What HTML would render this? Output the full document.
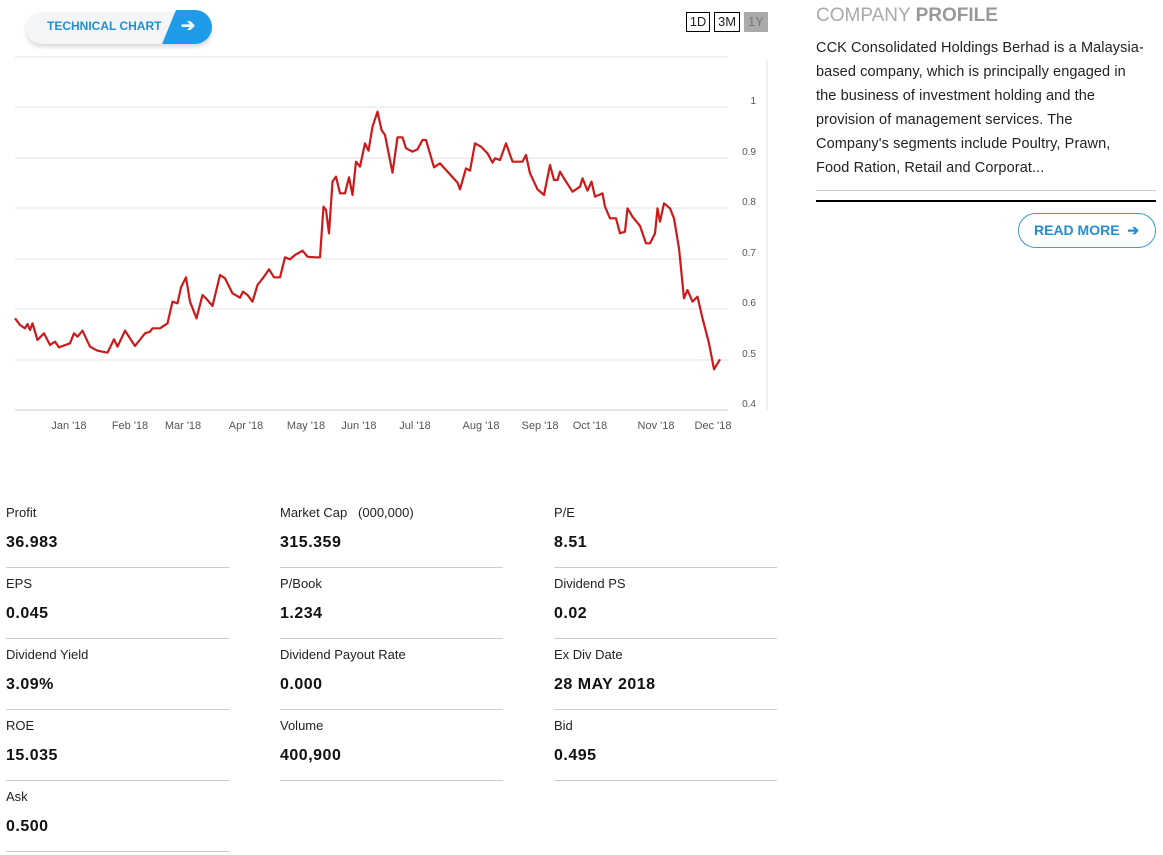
<!DOCTYPE html>
<html><head><meta charset="utf-8"><style>
body{margin:0;width:1163px;height:855px;background:#fff;font-family:"Liberation Sans",sans-serif;position:relative;overflow:hidden;color:#222}
.a{position:absolute}
.lab{font-size:13px;color:#222}
.val{font-size:16px;font-weight:bold;color:#111;letter-spacing:0.5px}
.ln{height:1px;background:#ccc;width:223px}
</style></head><body>
<div class="a" style="left:26px;top:12px;width:186px;height:32px;border-radius:16px;background:#f4f5f7;box-shadow:0 3px 4px rgba(0,0,0,0.15)"></div>
<div class="a" style="left:47px;top:19px;font-size:12px;font-weight:bold;color:#1e8fd6">TECHNICAL CHART</div>
<div class="a" style="left:162px;top:10px;width:50px;height:34px;background:#1e9be9;border-radius:0 17px 17px 0;clip-path:polygon(14px 0,100% 0,100% 100%,0 100%)"></div>
<div class="a" style="left:181px;top:16px;color:#fff;font-size:17px;font-weight:bold">➔</div>
<div class="a" style="left:686px;top:12px;width:22px;height:18px;border:1px solid #000;font-size:13px;text-align:center;line-height:18px">1D</div>
<div class="a" style="left:714px;top:12px;width:24px;height:18px;border:1px solid #000;font-size:13px;text-align:center;line-height:18px">3M</div>
<div class="a" style="left:744px;top:12px;width:24px;height:20px;background:#aaa;color:#777;font-size:13px;text-align:center;line-height:20px">1Y</div>
<svg class="a" style="left:0;top:0" width="780" height="440">
<g stroke="#e0e0e0" stroke-width="1">
<line x1="15" y1="57" x2="728" y2="57"/><line x1="15" y1="107" x2="728" y2="107"/><line x1="15" y1="158" x2="728" y2="158"/><line x1="15" y1="208" x2="728" y2="208"/><line x1="15" y1="259" x2="728" y2="259"/><line x1="15" y1="309" x2="728" y2="309"/><line x1="15" y1="360" x2="728" y2="360"/>
<line x1="15" y1="410" x2="728" y2="410" stroke="#ccc"/>
<line x1="767" y1="60" x2="767" y2="410"/>
</g>
<g font-size="10" fill="#555" text-anchor="end">
<text x="756" y="104">1</text><text x="756" y="155">0.9</text><text x="756" y="205">0.8</text><text x="756" y="256">0.7</text><text x="756" y="306">0.6</text><text x="756" y="357">0.5</text><text x="756" y="407">0.4</text>
</g>
<g font-size="11" fill="#555" text-anchor="middle">
<text x="69" y="429">Jan '18</text><text x="130" y="429">Feb '18</text><text x="183" y="429">Mar '18</text><text x="246" y="429">Apr '18</text><text x="306" y="429">May '18</text><text x="359" y="429">Jun '18</text><text x="415" y="429">Jul '18</text><text x="481" y="429">Aug '18</text><text x="540" y="429">Sep '18</text><text x="590" y="429">Oct '18</text><text x="656" y="429">Nov '18</text><text x="713" y="429">Dec '18</text>
</g>
<g transform="scale(0.5,0.33333)"><polyline fill="none" stroke="#cc1a1a" stroke-width="4.4" stroke-linejoin="round" vector-effect="non-scaling-stroke" style="stroke-width:2.2" points="30,955 40,975 50,985 55,972 60,990 65,970 75,1020 88,1000 100,1035 110,1025 118,1042 140,1030 148,1000 155,1010 165,992 180,1040 195,1052 215,1058 228,1018 235,1040 250,992 270,1038 290,1000 300,995 305,985 320,985 335,970 345,905 355,910 362,862 372,832 380,905 393,955 405,885 412,895 425,918 440,825 450,835 465,880 480,893 486,875 495,885 505,905 515,855 528,830 538,808 548,832 560,832 570,772 580,778 590,765 605,752 615,770 630,772 640,772 647,620 652,630 658,700 665,545 672,530 680,580 690,580 698,532 705,585 712,485 720,500 730,430 737,452 745,380 755,335 763,390 770,405 785,518 795,412 805,412 812,445 825,455 835,448 845,420 852,420 868,502 880,490 895,515 915,548 920,568 932,505 940,512 950,430 962,440 975,460 985,488 990,475 1000,480 1012,430 1025,485 1045,485 1052,465 1060,520 1075,568 1088,585 1100,495 1108,540 1115,540 1120,515 1130,540 1145,575 1160,560 1165,535 1175,572 1183,545 1190,590 1205,580 1210,620 1220,655 1232,655 1240,700 1250,695 1255,625 1265,650 1280,678 1292,730 1300,730 1310,700 1315,625 1320,665 1328,610 1340,625 1348,655 1358,745 1368,895 1375,870 1385,905 1395,890 1405,955 1418,1030 1428,1108 1440,1078"/></g>
</svg>
<div class="a" style="left:816px;top:5px;font-size:19px;color:#aaa">COMPANY <b style="color:#999">PROFILE</b></div>
<div class="a" style="left:816px;top:36px;font-size:14.5px;line-height:24px;color:#222;white-space:nowrap;letter-spacing:0.1px">CCK Consolidated Holdings Berhad is a Malaysia-<br>based company, which is principally engaged in<br>the business of investment holding and the<br>provision of management services. The<br>Company's segments include Poultry, Prawn,<br>Food Ration, Retail and Corporat...</div>
<div class="a" style="left:816px;top:190px;width:340px;height:1px;background:#ccc"></div>
<div class="a" style="left:816px;top:200px;width:340px;height:2px;background:#000"></div>
<div class="a" style="left:1018px;top:213px;width:138px;height:35px;border:1px solid #3a9ad0;border-radius:18px;box-sizing:border-box;font-size:14px;font-weight:bold;color:#1e8fd6;line-height:33px;padding-left:15px">READ MORE &nbsp;➔</div>

<div class="a lab" style="left:6px;top:505px">Profit</div><div class="a val" style="left:6px;top:534px">36.983</div><div class="a ln" style="left:6px;top:567px"></div>
<div class="a lab" style="left:280px;top:505px">Market Cap &nbsp;&nbsp;(000,000)</div><div class="a val" style="left:280px;top:534px">315.359</div><div class="a ln" style="left:280px;top:567px"></div>
<div class="a lab" style="left:554px;top:505px">P/E</div><div class="a val" style="left:554px;top:534px">8.51</div><div class="a ln" style="left:554px;top:567px"></div>

<div class="a lab" style="left:6px;top:576px">EPS</div><div class="a val" style="left:6px;top:605px">0.045</div><div class="a ln" style="left:6px;top:638px"></div>
<div class="a lab" style="left:280px;top:576px">P/Book</div><div class="a val" style="left:280px;top:605px">1.234</div><div class="a ln" style="left:280px;top:638px"></div>
<div class="a lab" style="left:554px;top:576px">Dividend PS</div><div class="a val" style="left:554px;top:605px">0.02</div><div class="a ln" style="left:554px;top:638px"></div>

<div class="a lab" style="left:6px;top:647px">Dividend Yield</div><div class="a val" style="left:6px;top:676px">3.09%</div><div class="a ln" style="left:6px;top:709px"></div>
<div class="a lab" style="left:280px;top:647px">Dividend Payout Rate</div><div class="a val" style="left:280px;top:676px">0.000</div><div class="a ln" style="left:280px;top:709px"></div>
<div class="a lab" style="left:554px;top:647px">Ex Div Date</div><div class="a val" style="left:554px;top:676px">28 MAY 2018</div><div class="a ln" style="left:554px;top:709px"></div>

<div class="a lab" style="left:6px;top:718px">ROE</div><div class="a val" style="left:6px;top:747px">15.035</div><div class="a ln" style="left:6px;top:780px"></div>
<div class="a lab" style="left:280px;top:718px">Volume</div><div class="a val" style="left:280px;top:747px">400,900</div><div class="a ln" style="left:280px;top:780px"></div>
<div class="a lab" style="left:554px;top:718px">Bid</div><div class="a val" style="left:554px;top:747px">0.495</div><div class="a ln" style="left:554px;top:780px"></div>

<div class="a lab" style="left:6px;top:789px">Ask</div><div class="a val" style="left:6px;top:818px">0.500</div><div class="a ln" style="left:6px;top:851px"></div>
</body></html>
